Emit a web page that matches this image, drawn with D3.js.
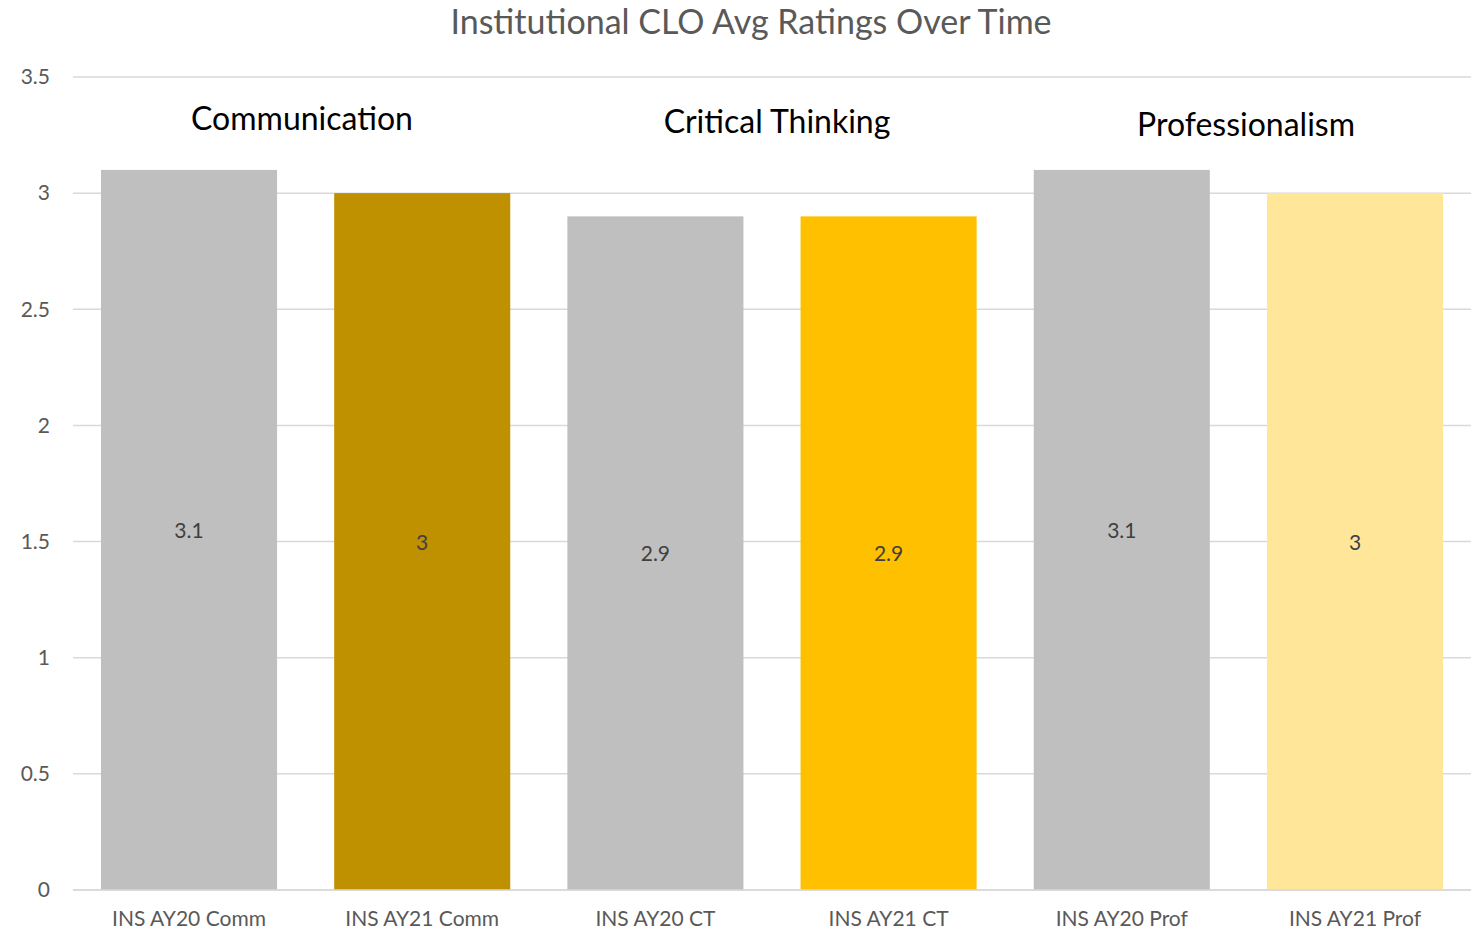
<!DOCTYPE html>
<html><head><meta charset="utf-8">
<script src="https://cdn.jsdelivr.net/npm/d3@7"></script>
<style>body{margin:0;background:#fff}svg{display:block}</style>
</head><body>
<svg id="chart" width="1481" height="932"></svg>
<script>
const categories = ["INS AY20 Comm","INS AY21 Comm","INS AY20 CT","INS AY21 CT","INS AY20 Prof","INS AY21 Prof"];
const values = [3.1, 3, 2.9, 2.9, 3.1, 3];
const barColors = ["#bfbfbf","#bf9000","#bfbfbf","#ffc000","#bfbfbf","#ffe699"];
const yTicks = [0,0.5,1,1.5,2,2.5,3,3.5];
const groupLabels = ["Communication","Critical Thinking","Professionalism"];
const title = "Institutional CLO Avg Ratings Over Time";

const svg = d3.select("#chart");
const font = "Lato, 'Open Sans', sans-serif";
const m = {left:73, right:1471, top:77, bottom:890};

const x = d3.scaleBand().domain(categories).range([m.left, m.right]).paddingInner(0.245).paddingOuter(0.12);
const y = d3.scaleLinear().domain([0,3.5]).range([m.bottom, m.top]);

svg.append("text").attr("x",751).attr("y",34).attr("text-anchor","middle")
  .attr("font-family",font).attr("font-size",34).attr("fill","#595959").text(title);

// gridlines
svg.append("g").selectAll("line").data(yTicks).join("line")
  .attr("x1",m.left).attr("x2",m.right).attr("y1",d=>y(d)).attr("y2",d=>y(d))
  .attr("stroke","#d9d9d9").attr("stroke-width",1.5);

// y axis labels
const yAxis = svg.append("g").attr("transform",`translate(${m.left-23},0)`)
  .call(d3.axisLeft(y).tickValues(yTicks).tickSize(0).tickPadding(0).tickFormat(d3.format("")));
yAxis.select(".domain").remove();
yAxis.selectAll("text").attr("font-family",font).attr("font-size",21).attr("fill","#595959");

// bars
svg.append("g").selectAll("rect").data(categories).join("rect")
  .attr("x",d=>x(d)).attr("width",x.bandwidth())
  .attr("y",(d,i)=>y(values[i])).attr("height",(d,i)=>y(0)-y(values[i]))
  .attr("fill",(d,i)=>barColors[i]);

// baseline
svg.append("line").attr("x1",m.left).attr("x2",m.right).attr("y1",y(0)).attr("y2",y(0))
  .attr("stroke","#d9d9d9").attr("stroke-width",1.5);

// data labels
svg.append("g").selectAll("text").data(categories).join("text")
  .attr("x",d=>x(d)+x.bandwidth()/2).attr("y",(d,i)=>(y(values[i])+y(0))/2+8)
  .attr("text-anchor","middle").attr("font-family",font).attr("font-size",21).attr("fill","#404040")
  .text((d,i)=>values[i]);

// x axis
const xAxis = svg.append("g").attr("transform",`translate(0,${y(0)})`)
  .call(d3.axisBottom(x).tickSize(0).tickPadding(21));
xAxis.select(".domain").remove();
xAxis.selectAll("text").attr("font-family",font).attr("font-size",21).attr("fill","#595959");

// group labels
const groupPos = [[302,130],[777,133],[1246,136]];
svg.append("g").selectAll("text").data(groupLabels).join("text")
  .attr("x",(d,i)=>groupPos[i][0]).attr("y",(d,i)=>groupPos[i][1])
  .attr("text-anchor","middle").attr("font-family",font).attr("font-size",32).attr("fill","#000")
  .text(d=>d);
</script>
</body></html>
